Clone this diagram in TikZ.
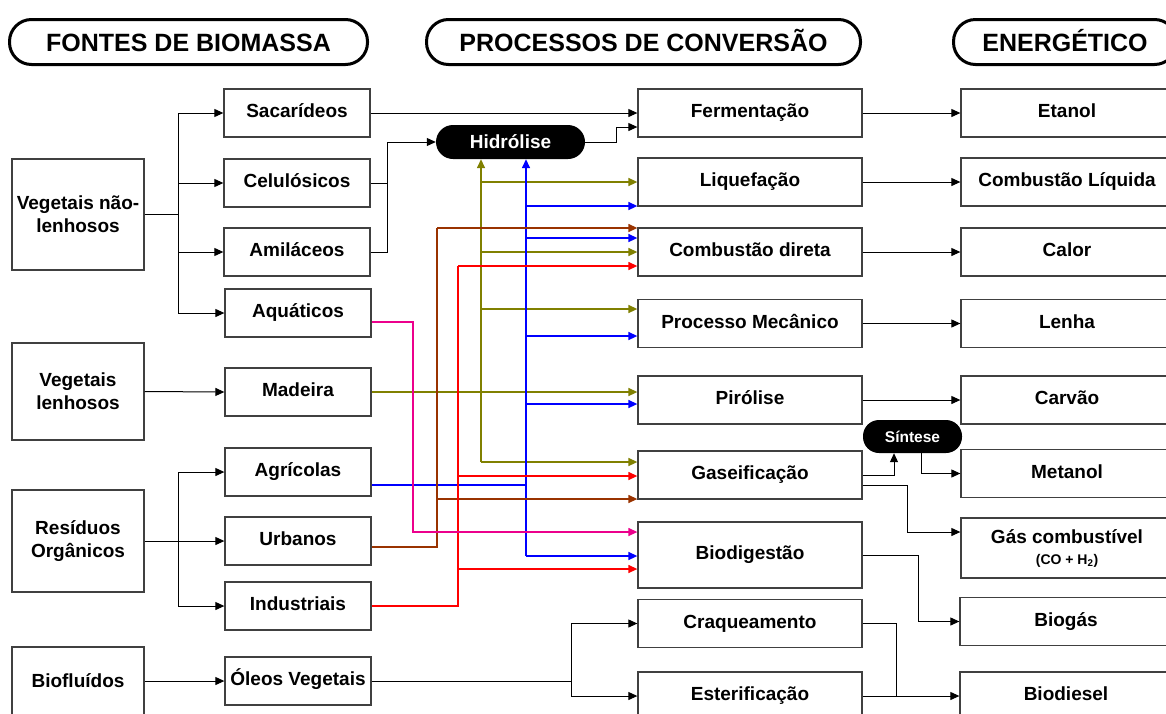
\documentclass[tikz,border=0pt]{standalone}
\usepackage{fontspec}
\setmainfont{Liberation Sans}
\usetikzlibrary{arrows.meta}
\definecolor{oliva}{RGB}{128,128,0}
\definecolor{marrom}{RGB}{153,51,0}

\begin{document}
\begin{tikzpicture}[x=1pt, y=-1pt,
    titulo/.style={draw, line width=3pt, rounded corners=22pt, minimum height=45pt, inner sep=0pt, text height=18pt, text depth=0pt, font=\fontsize{25}{28}\selectfont\bfseries},
    base/.style={draw=black!75, line width=1.3pt, rectangle, minimum width=146pt, minimum height=48pt, inner sep=0pt, align=center, font=\fontsize{19}{23}\selectfont\bfseries},
    caixa/.style={base, text height=13.6pt, text depth=4pt},
    fonte/.style={base, minimum width=132pt},
    processo/.style={caixa, minimum width=224pt},
    produto/.style={caixa, minimum width=212pt},
    pilula/.style={fill=black, text=white, inner sep=0pt, font=\fontsize{19}{22}\selectfont\bfseries},
    seta/.style={-{Triangle[length=9pt,width=8pt]}, line width=1pt},
    fio/.style={line width=1.3pt},
  ]
            \useasboundingbox (0,0) rectangle (1166,713);
            \clip (0,0) rectangle (1166,713);

            % titulos
            \node[titulo, minimum width=358pt] (tfon) at (188.5,42) {FONTES DE BIOMASSA};
            \node[titulo, minimum width=434pt] (tpro) at (643.5,42) {PROCESSOS DE CONVERSÃO};
            \node[titulo, minimum width=223pt] (tene) at (1065,42) {ENERGÉTICO};

            % fontes
            \node[fonte, minimum height=111pt] (vnl) at (78,214.5) {Vegetais não-\\lenhosos};
            \node[fonte, minimum height=97pt] (vl) at (78,391.5) {Vegetais\\lenhosos};
            \node[fonte, minimum height=102pt] (ro) at (78,541) {Resíduos\\Orgânicos};
            \node[fonte, minimum height=68pt] (bfl) at (78,681) {Biofluídos};

            \node[caixa] (sac) at (297,113) {Sacarídeos};
            \node[caixa] (cel) at (297,183) {Celulósicos};
            \node[caixa] (ami) at (297,252) {Amiláceos};
            \node[caixa] (aqu) at (298,313) {Aquáticos};
            \node[caixa] (mad) at (298,392) {Madeira};
            \node[caixa] (agr) at (298,472) {Agrícolas};
            \node[caixa] (urb) at (298,541) {Urbanos};
            \node[caixa] (ind) at (298,606) {Industriais};
            \node[caixa] (ole) at (298,681) {Óleos Vegetais};

            % processos
            \node[pilula, rounded corners=17pt, minimum width=149pt, minimum height=34pt] (hid) at (510.5,142) {Hidrólise};
            \node[processo] (fer) at (750,113) {Fermentação};
            \node[processo] (liq) at (750,182) {Liquefação};
            \node[processo] (com) at (750,252) {Combustão direta};
            \node[processo] (mec) at (750,323.5) {Processo Mecânico};
            \node[processo] (pir) at (750,400) {Pirólise};
            \node[processo] (gas) at (750,475) {Gaseificação};
            \node[processo, minimum height=66pt] (dig) at (750,555) {Biodigestão};
            \node[processo] (cra) at (750,623.5) {Craqueamento};
            \node[processo] (est) at (750,696) {Esterificação};
            \node[pilula, rounded corners=16pt, minimum width=99pt, minimum height=33pt, font=\fontsize{15.5}{18}\selectfont\bfseries] (sin) at (912.5,436.5) {Síntese};

            % produtos
            \node[produto] (eta) at (1067,113) {Etanol};
            \node[produto] (cli) at (1067,182) {Combustão Líquida};
            \node[produto] (cal) at (1067,252) {Calor};
            \node[produto] (len) at (1067,323.5) {Lenha};
            \node[produto] (car) at (1067,400) {Carvão};
            \node[produto] (met) at (1067,473.5) {Metanol};
            \node[base, minimum width=212pt, minimum height=60pt] (gco) at (1067,548) {Gás combustível\\[-2pt]{\fontsize{14}{16}\selectfont (CO + H\textsubscript{2})}};
            \node[produto] (bgs) at (1066,621.5) {Biogás};
            \node[produto] (bds) at (1066,696) {Biodiesel};

            % fontes -> tipos
            \coordinate (r1) at (178,214.5);
            \coordinate (r2) at (178,541);
            \draw[fio] (vnl.east) -- (r1);
            \draw[seta] (r1) |- (sac.west);
            \draw[seta] (r1) |- (cel.west);
            \draw[seta] (r1) |- (ami.west);
            \draw[seta] (r1) |- (aqu.west);
            \draw[seta] (vl.east) -- (mad.west);
            \draw[seta] (ro.east) -- (urb.west);
            \draw[seta] (r2) |- (agr.west);
            \draw[seta] (r2) |- (ind.west);
            \draw[seta] (bfl.east) -- (ole.west);

            % hidrolise e fermentacao
            \coordinate (h1) at (387,142);
            \draw[seta] (sac.east) -- (sac.east -| fer.west);
            \draw (cel.east) -| (h1);
            \draw (ami.east) -| (h1);
            \draw[seta] (h1) -- (hid.west);
            \draw[seta] (hid.east) -- (616,142) |- ([yshift=-14pt]fer.west);

            % madeira
            \draw[seta, oliva, line width=1.5pt] (mad.east) -- (mad.east -| pir.west);
            \draw[seta, oliva, line width=1.5pt] (481,462) -- (481,462 |- hid.south);
            \draw[seta, oliva, line width=1.5pt] (481,182) -- (481,182 -| liq.west);
            \draw[seta, oliva, line width=1.5pt] (481,252) -- (481,252 -| com.west);
            \draw[seta, oliva, line width=1.5pt] (481,309) -- (481,309 -| mec.west);
            \draw[seta, oliva, line width=1.5pt] (481,462) -- (481,462 -| gas.west);

            % agricolas
            \draw[blue, line width=1.3pt] ([yshift=-13pt]agr.east) -- (526,485);
            \draw[seta, blue, line width=1.5pt] (526,556) -- (526,556 |- hid.south);
            \draw[seta, blue, line width=1.5pt] (526,206) -- (526,206 -| liq.west);
            \draw[seta, blue, line width=1.5pt] (526,238) -- (526,238 -| com.west);
            \draw[seta, blue, line width=1.5pt] (526,336) -- (526,336 -| mec.west);
            \draw[seta, blue, line width=1.5pt] (526,404) -- (526,404 -| pir.west);
            \draw[seta, blue, line width=1.5pt] (526,556) -- (526,556 -| dig.west);

            % urbanos
            \draw[marrom, line width=1.3pt] ([yshift=-6pt]urb.east) -| (437,228);
            \draw[seta, marrom, line width=1.3pt] (437,228) -- (437,228 -| com.west);
            \draw[seta, marrom, line width=1.3pt] (437,499) -- (437,499 -| gas.west);

            % industriais
            \draw[red, line width=1.3pt] (ind.east) -| (458,266);
            \draw[seta, red, line width=1.3pt] (458,266) -- (458,266 -| com.west);
            \draw[seta, red, line width=1.3pt] (458,476) -- (458,476 -| gas.west);
            \draw[seta, red, line width=1.3pt] (458,569) -- (458,569 -| dig.west);

            % aquaticos
            \draw[seta, magenta, line width=1.3pt] ([yshift=-9pt]aqu.east) -| (413,532) -- (413,532 -| dig.west);

            % oleos
            \coordinate (o1) at (571,681);
            \draw (ole.east) -- (o1);
            \draw[seta] (o1) |- (cra.west);
            \draw[seta] (o1) |- (est.west);

            % processos -> produtos
            \draw[seta] (fer.east) -- (eta.west);
            \draw[seta] (liq.east) -- (cli.west);
            \draw[seta] (com.east) -- (cal.west);
            \draw[seta] (mec.east) -- (len.west);
            \draw[seta] (pir.east) -- (car.west);
            \draw[seta] (gas.east) -| ([xshift=-18.5pt]sin.south);
            \draw[seta] ([xshift=8.5pt]sin.south) |- (met.west);
            \draw[seta] ([yshift=-10pt]gas.east) -- (907,485) |- ([yshift=16pt]gco.west);
            \draw[seta] (dig.east) -- (918,555) |- (bgs.west);
            \draw (cra.east) -| (896,696);
            \draw[seta] (est.east) -- (bds.west);
        \end{tikzpicture}
\end{document}
